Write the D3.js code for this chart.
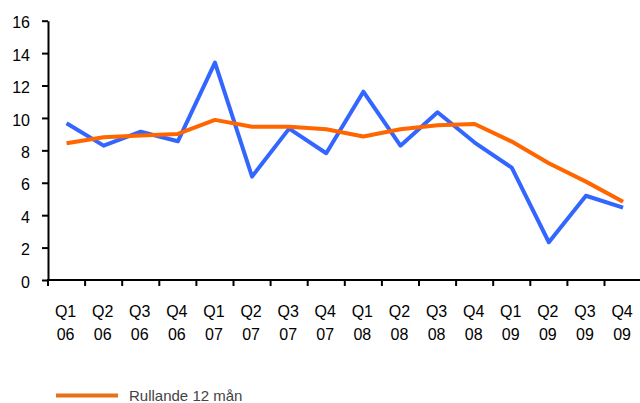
<!DOCTYPE html>
<html>
<head>
<meta charset="utf-8">
<script src="https://cdn.jsdelivr.net/npm/d3@7/dist/d3.min.js"></script>
<style>
  html, body { margin: 0; padding: 0; background: #fff; }
  svg { display: block; font-family: "Liberation Sans", Arial, sans-serif; }
</style>
</head>
<body>
<svg id="chart" width="640" height="403"></svg>
<script>
const quarters = ["Q1","Q2","Q3","Q4","Q1","Q2","Q3","Q4","Q1","Q2","Q3","Q4","Q1","Q2","Q3","Q4"];
const years    = ["06","06","06","06","07","07","07","07","08","08","08","08","09","09","09","09"];
const quarterly = [9.67, 8.29, 9.15, 8.56, 13.41, 6.38, 9.34, 7.82, 11.62, 8.29, 10.35, 8.48, 6.93, 2.33, 5.2, 4.46];
const rolling12 = [8.44, 8.81, 8.91, 9.01, 9.88, 9.46, 9.46, 9.3, 8.85, 9.3, 9.55, 9.63, 8.54, 7.2, 6.07, 4.83];
const yTicks = [0, 2, 4, 6, 8, 10, 12, 14, 16];
const legendLabel = "Rullande 12 mån";

const categories = quarters.map((q, i) => q + " " + years[i]);

const svg = d3.select("#chart");
const plotLeft = 48, plotRight = 641.6, plotTop = 20.7, plotBottom = 280;

const x = d3.scaleBand().domain(categories).range([plotLeft, plotRight]).padding(0);
const y = d3.scaleLinear().domain([0, 16]).range([plotBottom, plotTop]);

// Y axis
const yAxis = d3.axisLeft(y).tickValues(yTicks).tickSize(6).tickSizeOuter(0).tickPadding(12);
const gy = svg.append("g").attr("transform", `translate(${plotLeft},0)`).call(yAxis);
gy.select(".domain").attr("stroke", "#000").attr("stroke-width", 2);
gy.selectAll(".tick line").attr("stroke", "#000").attr("stroke-width", 2);
gy.selectAll(".tick text").attr("font-size", 16).attr("fill", "#000").attr("dy", "0.45em")
  .attr("font-family", "'Liberation Sans', Arial, sans-serif");

// X axis line
svg.append("line")
  .attr("x1", plotLeft - 1).attr("x2", 640)
  .attr("y1", plotBottom).attr("y2", plotBottom)
  .attr("stroke", "#000").attr("stroke-width", 2);

// X ticks at category boundaries
svg.append("g").selectAll("line")
  .data(categories)
  .join("line")
  .attr("x1", d => x(d)).attr("x2", d => x(d))
  .attr("y1", plotBottom).attr("y2", plotBottom + 6)
  .attr("stroke", "#000").attr("stroke-width", 2);

// X labels
const xl = svg.append("g").attr("font-size", 16).attr("fill", "#000").attr("text-anchor", "middle");
xl.selectAll("text.q")
  .data(categories)
  .join("text")
  .attr("class", "q")
  .attr("x", d => x(d) + x.bandwidth() / 2 - 1)
  .attr("y", 317)
  .text((d, i) => quarters[i]);
xl.selectAll("text.yr")
  .data(categories)
  .join("text")
  .attr("class", "yr")
  .attr("x", d => x(d) + x.bandwidth() / 2 - 1)
  .attr("y", 340)
  .text((d, i) => years[i]);

const line = d3.line()
  .x((d, i) => x(categories[i]) + x.bandwidth() / 2)
  .y(d => y(d));

svg.append("path")
  .datum(quarterly)
  .attr("d", line)
  .attr("fill", "none")
  .attr("stroke", "#3366FF")
  .attr("stroke-width", 4)
  .attr("stroke-linejoin", "round");

svg.append("path")
  .datum(rolling12)
  .attr("d", line)
  .attr("fill", "none")
  .attr("stroke", "#FF6600")
  .attr("stroke-width", 4)
  .attr("stroke-linejoin", "round");

// Legend
svg.append("line")
  .attr("x1", 56).attr("x2", 118)
  .attr("y1", 395.5).attr("y2", 395.5)
  .attr("stroke", "#E8701A").attr("stroke-width", 4);
svg.append("text")
  .attr("x", 129).attr("y", 401)
  .attr("font-size", 15)
  .attr("fill", "#444")
  .text(legendLabel);
</script>
</body>
</html>
